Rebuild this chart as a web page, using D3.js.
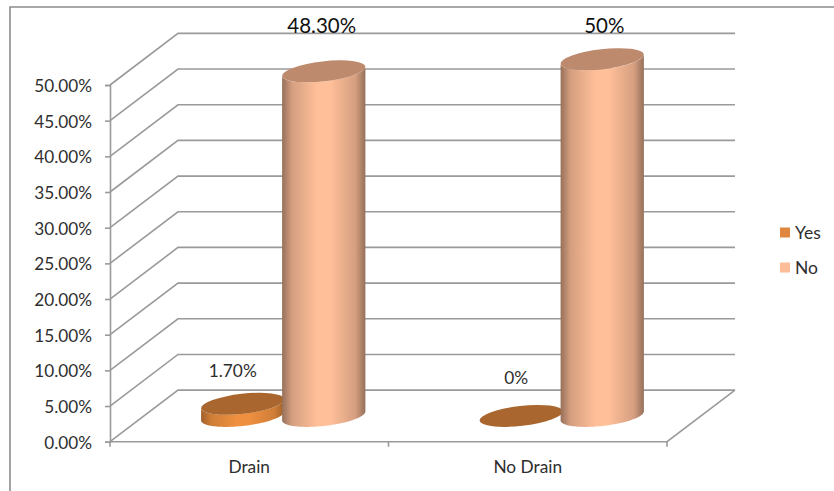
<!DOCTYPE html>
<html>
<head>
<meta charset="utf-8">
<script src="https://cdn.jsdelivr.net/npm/d3@7"></script>
<style>
  html, body { margin: 0; padding: 0; background: #fff; }
  svg { display: block; }
  text { font-family: Lato, "Open Sans", sans-serif; }
</style>
</head>
<body>
<svg id="chart" width="834" height="491"></svg>
<script>
// Drain use by outcome, expressed as a share of all cases
const categories = ["Drain", "No Drain"];
const seriesNames = ["Yes", "No"];
const yesValues = [0.017, 0];
const noValues = [0.483, 0.5];
const yesLabels = ["1.70%", "0%"];
const noLabels = ["48.30%", "50%"];
const yTicks = [0, 0.05, 0.1, 0.15, 0.2, 0.25, 0.3, 0.35, 0.4, 0.45, 0.5];

const W = 834, H = 491;
const svg = d3.select("#chart").attr("viewBox", [0, 0, W, H]);

// Front plane of the 3-D box and the offset of its back wall
const plot = { left: 110, right: 667, bottom: 441.7, top: 85 };
const depth = { x: 68, y: -51.6 };
const tilt = -6.5; // ellipse rotation in degrees

const x = d3.scaleBand().domain(categories).range([plot.left, plot.right]);
const y = d3.scaleLinear().domain([0, 0.5]).range([plot.bottom, plot.top]);
const inner = d3.scaleBand().domain(seriesNames).range([-81, 81]);

const gridColor = "#9a9a9a";
const textColor = "#2e2e2e";

const palette = {
  Yes: { top: "#a9662e", edge: "#a0602a", light: "#ee9040", swatch: "#e0873f" },
  No:  { top: "#bd8a6d", edge: "#96705a", light: "#ffbf99", swatch: "#fdbd98" }
};

// Horizontal shading across each cylinder wall
const defs = svg.append("defs");
seriesNames.forEach(name => {
  const c = palette[name];
  const g = defs.append("linearGradient").attr("id", "wall-" + name)
    .attr("x1", 0).attr("x2", 1).attr("y1", 0).attr("y2", 0);
  [[0, c.edge], [0.12, d3.interpolateRgb(c.edge, c.light)(0.6)], [0.42, c.light],
   [0.58, c.light], [0.88, d3.interpolateRgb(c.edge, c.light)(0.6)], [1, c.edge]]
    .forEach(([o, col]) => g.append("stop").attr("offset", o).attr("stop-color", col));
});

// Outer frame of the chart area: only the top and left edges are visible
svg.append("path")
  .attr("d", `M10,${H}V7H${W}`)
  .attr("fill", "none").attr("stroke", "#8c8c8c").attr("stroke-width", 1.6);

// Side wall and back wall gridlines
const grid = svg.append("g").attr("fill", "none").attr("stroke", gridColor).attr("stroke-width", 1.6);
grid.selectAll("path").data(yTicks).join("path")
  .attr("d", d => `M${plot.left},${y(d)}L${plot.left + depth.x},${y(d) + depth.y}H${plot.right + depth.x}`);

// Floor edges
grid.append("path")
  .attr("d", `M${plot.left},${plot.bottom}H${plot.right}L${plot.right + depth.x},${plot.bottom + depth.y}`);

// Value axis
const yAxis = d3.axisLeft(y).tickValues(yTicks).tickFormat(d3.format(".2%")).tickSize(5).tickPadding(13);
const yAxisG = svg.append("g").attr("transform", `translate(${plot.left},0)`).call(yAxis);
yAxisG.selectAll("line").attr("stroke", gridColor).attr("stroke-width", 1.6);
yAxisG.select(".domain").attr("stroke", gridColor).attr("stroke-width", 1.6);
yAxisG.selectAll("text").attr("fill", textColor).attr("y", 1).style("font-size", "17.2px");

// Category axis
const xAxis = d3.axisBottom(x).tickSize(5).tickSizeOuter(0).tickPadding(14);
const xAxisG = svg.append("g").attr("transform", `translate(0,${plot.bottom})`).call(xAxis);
xAxisG.select(".domain").remove();
xAxisG.selectAll("line").remove();
xAxisG.selectAll("text").attr("fill", textColor).style("font-size", "17.3px");
xAxisG.selectAll(".boundary").data(d3.range(categories.length + 1)).join("line")
  .attr("class", "boundary")
  .attr("x1", i => plot.left + i * x.step()).attr("x2", i => plot.left + i * x.step())
  .attr("y1", 0).attr("y2", 5)
  .attr("stroke", gridColor).attr("stroke-width", 1.6);

// Point on a tilted ellipse at parameter t
function ellipsePoint(cx, cy, rx, ry, phi, t) {
  return [
    cx + rx * Math.cos(t) * Math.cos(phi) - ry * Math.sin(t) * Math.sin(phi),
    cy + rx * Math.cos(t) * Math.sin(phi) + ry * Math.sin(t) * Math.cos(phi)
  ];
}

const outline = d3.line();

// Cylinders sit halfway into the depth of the box
function cylinder(g, name, value, category) {
  const cx = x(category) + x.bandwidth() / 2 + inner(name) + inner.bandwidth() / 2 + depth.x / 2;
  const rx = inner.bandwidth() / 2 + 1.4;
  const ry = 10;
  const phi = tilt * Math.PI / 180;
  const yBase = y(0) + depth.y / 2;
  const yTop = y(value) + depth.y / 2;
  // Parameter where the tilted ellipse has a vertical tangent on the right side
  const t0 = Math.atan2(-ry * Math.sin(phi), rx * Math.cos(phi));
  const c = palette[name];
  if (value > 0) {
    // Lower half of the base rim, running right to left, closed over the top rim
    const rim = d3.range(0, 61).map(i => t0 + Math.PI * i / 60);
    const base = rim.map(t => ellipsePoint(cx, yBase, rx, ry, phi, t));
    const lid = rim.map(t => ellipsePoint(cx, yTop, rx, ry, phi, t)).reverse();
    g.append("path")
      .attr("d", outline(base.concat(lid)) + "Z")
      .attr("fill", `url(#wall-${name})`);
  }
  g.append("ellipse")
    .attr("cx", cx).attr("cy", yTop).attr("rx", rx).attr("ry", ry)
    .attr("transform", `rotate(${tilt} ${cx} ${yTop})`)
    .attr("fill", c.top);
}

const bars = svg.append("g");
[["Yes", yesValues], ["No", noValues]].forEach(([name, values]) => {
  categories.forEach((cat, i) => cylinder(bars, name, values[i], cat));
});

// Data labels
const labels = svg.append("g").attr("text-anchor", "middle");
const labelX = (name, cat, shift) =>
  x(cat) + x.bandwidth() / 2 + inner(name) + inner.bandwidth() / 2 + depth.x / 2 + shift;

categories.forEach((cat, i) => {
  labels.append("text")
    .attr("x", labelX("Yes", cat, i === 0 ? -10 : -5))
    .attr("y", y(yesValues[i]) + depth.y / 2 - (i === 0 ? 27 : 32))
    .attr("fill", textColor).style("font-size", "17.3px")
    .text(yesLabels[i]);
  labels.append("text")
    .attr("x", labelX("No", cat, i === 0 ? -2 : 2))
    .attr("y", y(noValues[i]) + depth.y / 2 - (i === 0 ? 38 : 26))
    .attr("fill", "#111").style("font-size", "20.5px")
    .text(noLabels[i]);
});

// Legend
const legendRow = d3.scalePoint().domain(seriesNames).range([232.5, 267.5]);
const legend = svg.append("g");
seriesNames.forEach(name => {
  legend.append("rect")
    .attr("x", 780).attr("y", legendRow(name) - 5)
    .attr("width", 10).attr("height", 10)
    .attr("fill", palette[name].swatch);
  legend.append("text")
    .attr("x", 795).attr("y", legendRow(name) + 6)
    .attr("fill", textColor).style("font-size", "17.5px")
    .text(name);
});
</script>
</body>
</html>
